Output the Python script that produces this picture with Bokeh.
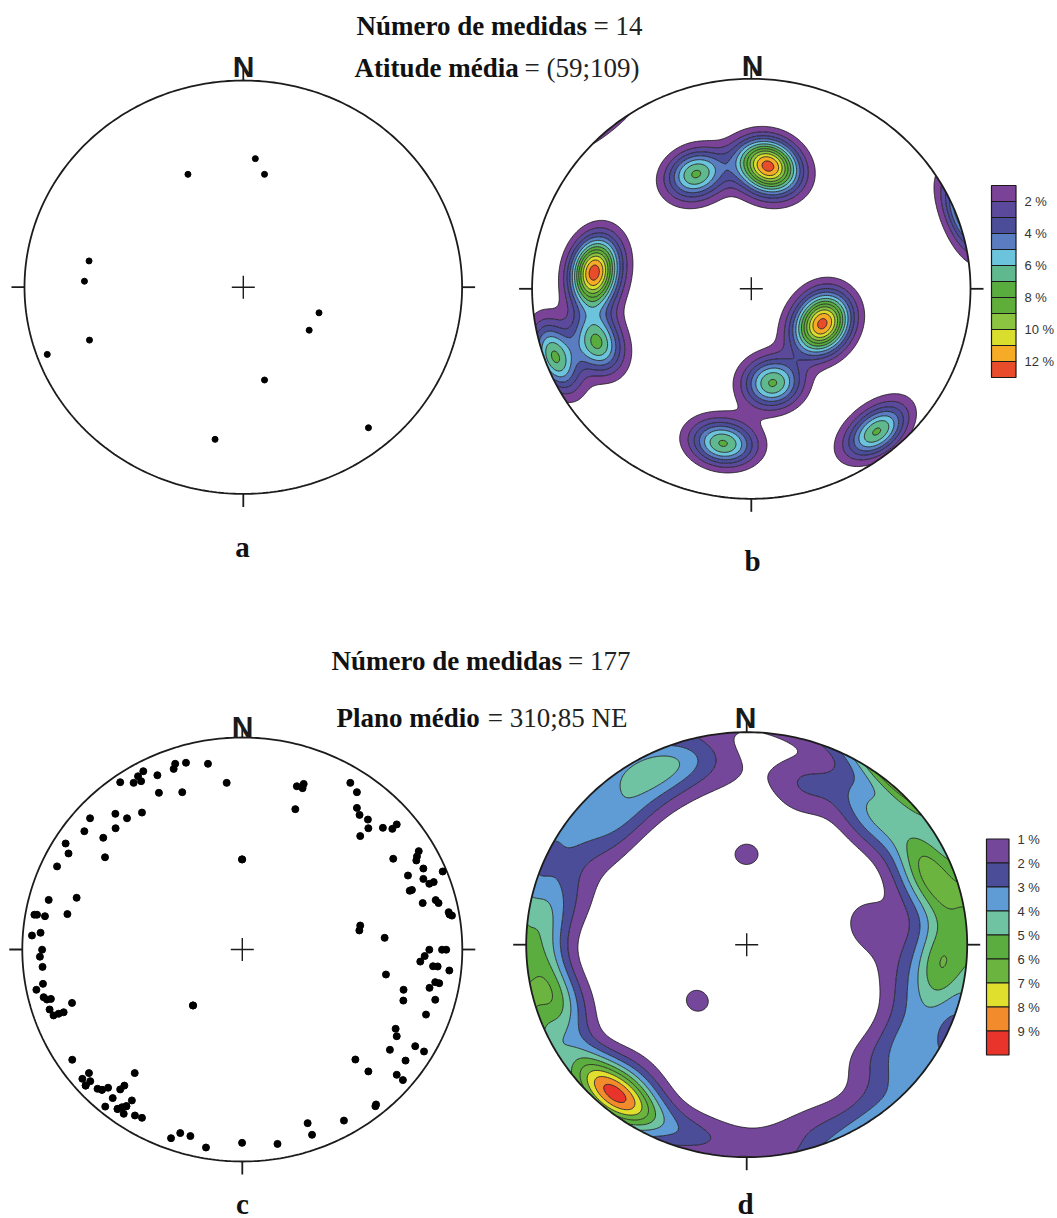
import numpy as np
from bokeh.plotting import figure
from bokeh.models import Range1d
from bokeh.core.properties import value
from bokeh.embed import file_html
from bokeh.resources import INLINE

# ---------------- DATA ----------------
# Panel a / b : poles read from the equal-area net (east, north; unit circle = primitive)
a_east = [0.055, -0.253, 0.097, -0.705, -0.726, -0.703, -0.896, 0.346, 0.301, 0.097, -0.129, 0.572]
a_north = [0.622, 0.546, 0.546, 0.127, 0.029, -0.256, -0.325, -0.124, -0.208, -0.449, -0.736, -0.680]
a_count = 14

# Panel c / d : poles read from the equal-area net.
# The last block repeats dots that overlap (177 measurements, fewer visible dots).
c_east = [
    -0.305, -0.256, -0.156, -0.312, -0.450, -0.474, -0.460, -0.494, -0.555, -0.386,
    -0.071, -0.379, -0.273, -0.456, -0.577, -0.524, -0.692, -0.576, -0.718, -0.632,
    -0.803, -0.790, -0.624, -0.842, -0.001, -0.880, -0.753, -0.945, -0.933, -0.897,
    -0.795, -0.956, -0.917, -0.910, -0.920, -0.908, -0.906, -0.936,
    -0.903, -0.888, -0.870, -0.876, -0.858, -0.835, -0.812, -0.774, -0.224, -0.773,
    -0.697, -0.727, -0.691, -0.712, -0.658, -0.638, -0.610, -0.555, -0.536, -0.489,
    -0.589, -0.623, -0.567, -0.547, -0.527, -0.539, -0.502, -0.488, -0.456, -0.324,
    -0.282, -0.236, -0.165, -0.001,
    0.248, 0.279, 0.274, 0.241, 0.491, 0.521, 0.521, 0.533, 0.571, 0.573,
    0.536, 0.639, 0.682, 0.702, 0.686, 0.802, 0.794, 0.791, 0.823, 0.753,
    0.823, 0.850, 0.870, 0.761, 0.771, 0.820, 0.879, 0.892, 0.911, 0.938,
    0.953, 0.942, 0.536, 0.532, 0.647, 0.850, 0.829, 0.809, 0.908, 0.927,
    0.867, 0.888, 0.941, 0.653, 0.877, 0.895, 0.851, 0.733,
    0.732, 0.877, 0.835, 0.697, 0.702, 0.671, 0.786, 0.826, 0.742, 0.514,
    0.573, 0.702, 0.730, 0.608, 0.605, 0.462, 0.297, 0.317, 0.160,
    # overlapping dots
    -0.001, -0.224,
    -0.712, -0.638, -0.567, -0.527]
c_north = [
    0.876, 0.881, 0.876, 0.852, 0.841, 0.817, 0.794, 0.786, 0.789, 0.822,
    0.786, 0.739, 0.742, 0.646, 0.640, 0.619, 0.619, 0.572, 0.558, 0.527,
    0.500, 0.453, 0.435, 0.392, 0.425, 0.234, 0.244, 0.164, 0.164, 0.157,
    0.167, 0.066, 0.079, -0.001, -0.034, -0.082, -0.162, -0.190,
    -0.225, -0.236, -0.233, -0.283, -0.311, -0.303, -0.296, -0.252, -0.264, -0.520,
    -0.583, -0.610, -0.621, -0.642, -0.657, -0.662, -0.652, -0.660, -0.642, -0.583,
    -0.701, -0.741, -0.752, -0.744, -0.739, -0.775, -0.712, -0.783, -0.794, -0.890,
    -0.866, -0.880, -0.934, -0.912,
    0.770, 0.781, 0.761, 0.662, 0.786, 0.742, 0.668, 0.635, 0.613, 0.572,
    0.535, 0.574, 0.569, 0.590, 0.428, 0.464, 0.439, 0.420, 0.382, 0.349,
    0.333, 0.310, 0.318, 0.277, 0.281, 0.219, 0.233, 0.219, 0.368, 0.176,
    0.160, 0.165, 0.113, 0.090, 0.055, -0.001, -0.031, -0.057, -0.001, -0.001,
    -0.079, -0.080, -0.099, -0.118, -0.154, -0.159, -0.181, -0.190,
    -0.241, -0.237, -0.307, -0.374, -0.409, -0.473, -0.456, -0.481, -0.524, -0.519,
    -0.575, -0.591, -0.616, -0.731, -0.739, -0.807, -0.819, -0.874, -0.917,
    # overlapping dots
    0.425, -0.264,
    -0.642, -0.662, -0.752, -0.739]
c_count = 177

b_levels = [1, 2, 3, 4, 5, 6, 7, 8, 9, 10, 11, 12]
b_colors = ["#7b4397", "#5b4a9b", "#4b4d99", "#5a7cc0", "#6cc4dc", "#60b88f",
            "#59ad3f", "#5fae3a", "#8bc440", "#d9de2d", "#f6ab26", "#e84c2b"]
b_labels = ["2 %", "4 %", "6 %", "8 %", "10 %", "12 %"]
b_label_levels = [2, 4, 6, 8, 10, 12]

d_levels = [1, 2, 3, 4, 5, 6, 7, 8, 9]
d_colors = ["#74479a", "#4b4d98", "#5f9bd4", "#6fc3a3", "#5aad3e", "#6bb43f",
            "#e1df2e", "#f28b2b", "#e8342b"]
d_labels = ["1 %", "2 %", "3 %", "4 %", "5 %", "6 %", "7 %", "8 %", "9 %"]
d_label_levels = [1, 2, 3, 4, 5, 6, 7, 8, 9]

title_top = [("Número de medidas", "= 14"), ("Atitude média", "= (59;109)")]
title_bot = [("Número de medidas", "= 177"), ("Plano médio", "= 310;85 NE")]

# smoothing of density (spherical exponential kernel), % of measurements
B_KAPPA, B_SCALE = 68.0, 100.0 / a_count
D_KAPPA, D_SCALE = 50.0, 100.0 / c_count

# ---------------- LAYOUT ----------------
W, H = 1057, 1218
X0, Y0 = 0, 0
PANELS = {
    "a": dict(cx=242.8, cy=286.7, rx=218.8, ry=206.7),
    "b": dict(cx=750.8, cy=288.3, rx=219.2, ry=210.0),
    "c": dict(cx=241.8, cy=949.0, rx=220.0, ry=212.0),
    "d": dict(cx=746.2, cy=944.2, rx=220.5, ry=212.5),
}

p = figure(width=W, height=H, output_backend="svg", toolbar_location=None,
           x_axis_location=None, y_axis_location=None, min_border=0,
           x_range=Range1d(X0, X0 + W), y_range=Range1d(Y0 + H, Y0),
           outline_line_color=None, background_fill_color="white",
           border_fill_color="white")
p.grid.visible = False

for name, g in PANELS.items():
    p.extra_x_ranges[name] = Range1d((X0 - g["cx"]) / g["rx"], (X0 + W - g["cx"]) / g["rx"])
    p.extra_y_ranges[name] = Range1d((g["cy"] - (Y0 + H)) / g["ry"], (g["cy"] - Y0) / g["ry"])


def to_vec(e, n):
    e = np.asarray(e, float)
    n = np.asarray(n, float)
    r = np.maximum(np.hypot(e, n), 1e-12)
    rc = np.minimum(r, 1.0)
    th = 2.0 * np.arcsin(rc / np.sqrt(2.0))
    s = np.sin(th)
    return np.stack([s * e / r, s * n / r, np.cos(th)], axis=-1)


def density(ge, gn, pe, pn, kappa, scale):
    G = to_vec(ge, gn).reshape(-1, 3)
    P = to_vec(pe, pn)
    c = np.abs(G @ P.T)
    return scale * np.exp(kappa * (c - 1.0)).sum(axis=1)


t = np.linspace(0, 2 * np.pi, 361)
ucx, ucy = np.cos(t), np.sin(t)
BOX = 1.035


def contour_panel(name, pe, pn, kappa, scale, levels, colors):
    g = np.linspace(-1.025, 1.025, 261)
    GE, GN = np.meshgrid(g, g)
    Z = density(GE.ravel(), GN.ravel(), pe, pn, kappa, scale).reshape(GE.shape)
    top = max(float(Z.max()) * 1.01, levels[-1] + 1.0)
    cr = p.contour(x=g, y=g, z=Z, levels=list(levels) + [top],
                   fill_color=colors, line_color="#151515", line_width=0.8)
    for r in (cr, cr.fill_renderer, cr.line_renderer):
        r.x_range_name = name
        r.y_range_name = name
    # white mask outside the primitive circle
    p.multi_polygons(xs=[[[[-BOX, BOX, BOX, -BOX], list(ucx)]]],
                     ys=[[[[-BOX, -BOX, BOX, BOX], list(ucy)]]],
                     fill_color="white", line_color=None,
                     x_range_name=name, y_range_name=name)


contour_panel("b", a_east, a_north, B_KAPPA, B_SCALE, b_levels, b_colors)
contour_panel("d", c_east, c_north, D_KAPPA, D_SCALE, d_levels, d_colors)

for name, g in PANELS.items():
    kw = dict(x_range_name=name, y_range_name=name)
    p.line(ucx, ucy, line_color="#1c1c1c", line_width=1.8, **kw)
    tx, ty = 13.0 / g["rx"], 13.0 / g["ry"]
    p.segment(x0=[-1 - tx, 1, 0, 0], y0=[0, 0, 1, -1 - ty],
              x1=[-1, 1 + tx, 0, 0], y1=[0, 0, 1 + ty, -1],
              line_color="#1c1c1c", line_width=1.8, **kw)
    p.scatter([0], [0], marker="cross", size=23, line_color="#1c1c1c",
              line_width=1.4, **kw)

p.scatter(a_east, a_north, size=6, fill_color="black", line_color="black",
          x_range_name="a", y_range_name="a")
p.scatter(c_east, c_north, size=7, fill_color="black", line_color="black",
          x_range_name="c", y_range_name="c")

# ---------------- TEXT ----------------
serif = value("Liberation Serif")
sans = value("Liberation Sans")

# N labels
p.text(x=[243, 752, 242, 745], y=[66, 65, 726, 717], text=["N"] * 4,
       text_font=sans, text_font_style="bold", text_font_size="30px",
       text_align="center", text_baseline="alphabetic", text_color="#1a1a1a")

# panel letters
p.text(x=[242, 752, 242, 745], y=[546, 560, 1203, 1203], text=["a", "b", "c", "d"],
       text_font=serif, text_font_style="bold", text_font_size="29px",
       text_align="center", text_baseline="alphabetic", text_color="#111111")

# titles: bold part left aligned, normal part right aligned
tb_x = [356, 354, 331, 336]
te_x = [642, 639, 630, 627]
t_y = [25, 67, 660, 717]
bold_txt = [s[0] for s in title_top + title_bot]
norm_txt = [s[1] for s in title_top + title_bot]
p.text(x=tb_x, y=t_y, text=bold_txt, text_font=serif, text_font_style="bold",
       text_font_size="27px", text_align="left", text_baseline="alphabetic",
       text_color="#111111")
p.text(x=te_x, y=t_y, text=norm_txt, text_font=serif, text_font_style="normal",
       text_font_size="27px", text_align="right", text_baseline="alphabetic",
       text_color="#222222")

# ---------------- LEGENDS ----------------
def legend(levels, colors, labels, label_levels, left, right, top, h, lx):
    n = len(colors)
    tops = [top + i * h for i in range(n)]
    bots = [top + (i + 1) * h for i in range(n)]
    p.quad(left=[left] * n, right=[right] * n, top=tops, bottom=bots,
           fill_color=colors, line_color="#1a1a1a", line_width=1.2)
    ly = [top + levels.index(L) * h for L in label_levels]
    p.text(x=[lx] * len(labels), y=ly, text=labels, text_font=sans,
           text_font_size="13px", text_align="left", text_baseline="middle",
           text_color="#333333")


legend(b_levels, b_colors, b_labels, b_label_levels, 991, 1015.5, 185, 16.0, 1024)
legend(d_levels, d_colors, d_labels, d_label_levels, 986, 1008.5, 838.5, 24.0, 1017)

open("out.html", "w").write(file_html(p, INLINE))
